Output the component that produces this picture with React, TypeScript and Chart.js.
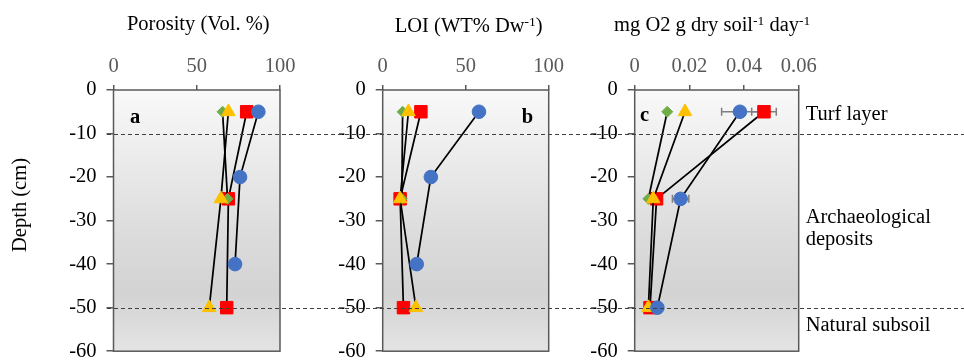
import React, { useEffect, useRef } from 'react';
import { Chart, registerables } from 'chart.js';

Chart.register(...registerables);

// ---------- data ----------
const depthsBlueAB = [-5, -20, -40];
const depthsStd = [-5, -25, -50];
const depthsGreen = [-5, -25];

const porosityBlue = [87, 76, 73];
const porosityRed = [80, 69, 68];
const porosityGreen = [65.5, 68.5];
const porosityYellow = [69, 64.5, 57.5];

const loiBlue = [58, 29, 20.5];
const loiRed = [23, 10.5, 12.5];
const loiGreen = [12, 11.5];
const loiYellow = [15.5, 10.5, 20];

const o2Blue = [0.0385, 0.0168, 0.0083];
const o2Red = [0.0473, 0.008, 0.0056];
const o2Green = [0.0119, 0.005];
const o2Yellow = [0.0184, 0.0068, 0.005];
const o2ErrBlue = [0.0067, 0.003, 0];
const o2ErrRed = [0.0045, 0, 0];

const boundaryDepths = [-10, -50];
const zoneLabels = ['Turf layer', 'Archaeological', 'deposits', 'Natural subsoil'];
const zoneLabelDepths = [-7, -30.5, -35.6, -55.3];

// ---------- styling ----------
const FONT = '"Liberation Serif", "Times New Roman", serif';
const FS = 20.5;
Chart.defaults.font.family = FONT;
Chart.defaults.font.size = FS;

const W = 964;
const H = 361;
const AXIS_W = 50;
const TOP_H = 90;
const BOTTOM = 352.5;

type Seg = { t: string; sup?: boolean };

interface Panel {
  left: number;
  right: number;
  xMax: number;
  xStep: number;
  letter: string;
  letterAlign: 'left' | 'right';
  letterDx: number;
  letterBaseline: number;
  title: Seg[];
  titleDx: number;
  titleBaseline: number;
  fmt: (v: number) => string;
  blue: number[]; blueDepths: number[];
  red: number[]; green: number[]; yellow: number[];
  errBlue?: number[]; errRed?: number[];
  isFirst?: boolean; isLast?: boolean;
}

function pts(xs: number[], ds: number[]) {
  return xs.map((x, i) => ({ x, y: ds[i] }));
}

function makeDatasets(p: Panel) {
  const common = { showLine: true, borderColor: '#000', borderWidth: 1.75, tension: 0, pointBorderWidth: 1 };
  return [
    { ...common, data: pts(p.blue, p.blueDepths), pointStyle: 'circle', pointRadius: 6.8, pointBackgroundColor: '#4472C4', pointBorderColor: '#4472C4', errors: p.errBlue },
    { ...common, data: pts(p.yellow, depthsStd), pointStyle: 'triangle', pointRadius: 7.8, pointBackgroundColor: '#FFC000', pointBorderColor: '#FFC000' },
    { ...common, data: pts(p.green, depthsGreen), pointStyle: 'rectRot', pointRadius: 5.5, pointBackgroundColor: '#70AD47', pointBorderColor: '#70AD47' },
    { ...common, data: pts(p.red, depthsStd), pointStyle: 'rect', pointRadius: 8.8, pointBackgroundColor: '#FF0000', pointBorderColor: '#FF0000', errors: p.errRed },
  ];
}

function drawSegs(ctx: CanvasRenderingContext2D, segs: Seg[], cx: number, baseline: number) {
  const big = `${FS}px ${FONT}`;
  const small = `13.5px ${FONT}`;
  let total = 0;
  const widths = segs.map((s) => {
    ctx.font = s.sup ? small : big;
    const w = ctx.measureText(s.t).width;
    total += w;
    return w;
  });
  let x = cx - total / 2;
  ctx.textAlign = 'left';
  ctx.textBaseline = 'alphabetic';
  ctx.fillStyle = '#000';
  segs.forEach((s, i) => {
    ctx.font = s.sup ? small : big;
    ctx.fillText(s.t, x, s.sup ? baseline - 6 : baseline);
    x += widths[i];
  });
}

function panelPlugin(p: Panel) {
  return {
    id: 'panelDecor',
    beforeDraw(chart: any) {
      const { ctx, chartArea: a } = chart;
      ctx.save();
      const g = ctx.createLinearGradient(0, a.top, 0, a.bottom);
      g.addColorStop(0, '#f9f9f9');
      g.addColorStop(0.55, '#dcdcdc');
      g.addColorStop(0.78, '#d3d3d3');
      g.addColorStop(1, '#e4e4e4');
      ctx.fillStyle = g;
      ctx.fillRect(a.left, a.top, a.right - a.left, a.bottom - a.top);
      ctx.restore();
    },
    beforeDatasetsDraw(chart: any) {
      const { ctx } = chart;
      const xs = chart.scales.x;
      const ys = chart.scales.y;
      ctx.save();
      ctx.strokeStyle = '#7f7f7f';
      ctx.lineWidth = 1.5;
      chart.data.datasets.forEach((ds: any) => {
        if (!ds.errors) return;
        ds.data.forEach((pt: any, i: number) => {
          const e = ds.errors[i];
          if (!e) return;
          const y = ys.getPixelForValue(pt.y);
          const x1 = xs.getPixelForValue(pt.x - e);
          const x2 = xs.getPixelForValue(pt.x + e);
          ctx.beginPath();
          ctx.moveTo(x1, y); ctx.lineTo(x2, y);
          ctx.moveTo(x1, y - 4); ctx.lineTo(x1, y + 4);
          ctx.moveTo(x2, y - 4); ctx.lineTo(x2, y + 4);
          ctx.stroke();
        });
      });
      ctx.restore();
    },
    afterDatasetsDraw(chart: any) {
      const { ctx, chartArea: a } = chart;
      ctx.save();
      ctx.strokeStyle = '#595959';
      ctx.lineWidth = 1.5;
      ctx.strokeRect(a.left, a.top, a.right - a.left, a.bottom - a.top);
      ctx.restore();
    },
    afterDraw(chart: any) {
      const { ctx, chartArea: a } = chart;
      const ys = chart.scales.y;
      ctx.save();
      drawSegs(ctx, p.title, (a.left + a.right) / 2 + p.titleDx, p.titleBaseline);
      ctx.font = `bold ${FS}px ${FONT}`;
      ctx.fillStyle = '#000';
      ctx.textBaseline = 'alphabetic';
      ctx.textAlign = p.letterAlign;
      ctx.fillText(p.letter, p.letterAlign === 'left' ? a.left + p.letterDx : a.right - p.letterDx, p.letterBaseline);
      if (p.isFirst) {
        ctx.save();
        ctx.translate(26, 205);
        ctx.rotate(-Math.PI / 2);
        ctx.font = `${FS}px ${FONT}`;
        ctx.textAlign = 'center';
        ctx.fillText('Depth (cm)', 0, 0);
        ctx.restore();
      }
      if (p.isLast) {
        ctx.font = `${FS}px ${FONT}`;
        ctx.textAlign = 'left';
        ctx.fillStyle = '#000';
        zoneLabels.forEach((t, i) => {
          ctx.fillText(t, a.right + 7, ys.getPixelForValue(zoneLabelDepths[i]));
        });
        ctx.strokeStyle = '#404040';
        ctx.lineWidth = 1;
        ctx.setLineDash([4, 3]);
        boundaryDepths.forEach((d) => {
          const y = Math.round(ys.getPixelForValue(d)) + 0.5;
          ctx.beginPath();
          ctx.moveTo(107, y);
          ctx.lineTo(W, y);
          ctx.stroke();
        });
      }
      ctx.restore();
    },
  };
}

function makeChart(canvas: HTMLCanvasElement, p: Panel) {
  const tickFont = { family: FONT, size: FS };
  return new Chart(canvas, {
    type: 'scatter',
    data: { datasets: makeDatasets(p) as any },
    options: {
      responsive: false,
      animation: false,
      devicePixelRatio: 1,
      events: [],
      layout: { padding: { left: p.left - AXIS_W, right: W - p.right, top: 0, bottom: H - BOTTOM } },
      plugins: { legend: { display: false }, tooltip: { enabled: false } },
      scales: {
        x: {
          type: 'linear',
          position: 'top',
          min: 0,
          max: p.xMax,
          ticks: { stepSize: p.xStep, color: '#595959', padding: 6.5, maxRotation: 0, font: tickFont, callback: (v: any) => p.fmt(Number(v)) },
          grid: { drawOnChartArea: false, drawTicks: true, tickLength: 5, color: '#595959', lineWidth: 1.5 },
          border: { display: false },
          afterFit: (s: any) => { s.height = TOP_H; s.paddingLeft = 0; s.paddingRight = 0; },
        },
        y: {
          type: 'linear',
          min: -60,
          max: 0,
          ticks: { stepSize: 10, color: '#000', padding: 10, font: tickFont },
          grid: { drawOnChartArea: false, drawTicks: true, tickLength: 7, color: '#595959', lineWidth: 1.5 },
          border: { display: false },
          afterFit: (s: any) => { s.width = AXIS_W; s.paddingTop = 0; s.paddingBottom = 0; },
        },
      } as any,
    },
    plugins: [panelPlugin(p)],
  });
}

const panels: Panel[] = [
  {
    left: 113.5, right: 280, xMax: 100, xStep: 50, letter: 'a', letterAlign: 'left', letterDx: 16.5, letterBaseline: 123,
    title: [{ t: 'Porosity (Vol. %)' }], titleDx: 1.5, titleBaseline: 30,
    fmt: (v) => String(v),
    blue: porosityBlue, blueDepths: depthsBlueAB, red: porosityRed, green: porosityGreen, yellow: porosityYellow,
    isFirst: true,
  },
  {
    left: 382.7, right: 548.7, xMax: 100, xStep: 50, letter: 'b', letterAlign: 'right', letterDx: 15.5, letterBaseline: 123,
    title: [{ t: 'LOI (WT% Dw' }, { t: '-1', sup: true }, { t: ')' }], titleDx: 3, titleBaseline: 32,
    fmt: (v) => String(v),
    blue: loiBlue, blueDepths: depthsBlueAB, red: loiRed, green: loiGreen, yellow: loiYellow,
  },
  {
    left: 634.7, right: 798.7, xMax: 0.06, xStep: 0.02, letter: 'c', letterAlign: 'left', letterDx: 5.3, letterBaseline: 121,
    title: [{ t: 'mg O2 g dry soil' }, { t: '-1', sup: true }, { t: ' day' }, { t: '-1', sup: true }], titleDx: -4.5, titleBaseline: 31,
    fmt: (v) => (Math.abs(v) < 1e-9 ? '0' : v.toFixed(2)),
    blue: o2Blue, blueDepths: depthsStd, red: o2Red, green: o2Green, yellow: o2Yellow,
    errBlue: o2ErrBlue, errRed: o2ErrRed,
    isLast: true,
  },
];

export default function App() {
  const r0 = useRef<HTMLCanvasElement>(null);
  const r1 = useRef<HTMLCanvasElement>(null);
  const r2 = useRef<HTMLCanvasElement>(null);

  useEffect(() => {
    const refs = [r0, r1, r2];
    const charts = panels.map((p, i) => makeChart(refs[i].current as HTMLCanvasElement, p));
    return () => charts.forEach((c) => c.destroy());
  }, []);

  const cs: React.CSSProperties = { position: 'absolute', left: 0, top: 0, width: W, height: H, display: 'block' };
  return (
    <div style={{ position: 'absolute', left: 0, top: 0, width: W, height: H, background: '#fff', overflow: 'hidden' }}>
      <canvas ref={r0} width={W} height={H} style={cs} />
      <canvas ref={r1} width={W} height={H} style={cs} />
      <canvas ref={r2} width={W} height={H} style={cs} />
    </div>
  );
}
